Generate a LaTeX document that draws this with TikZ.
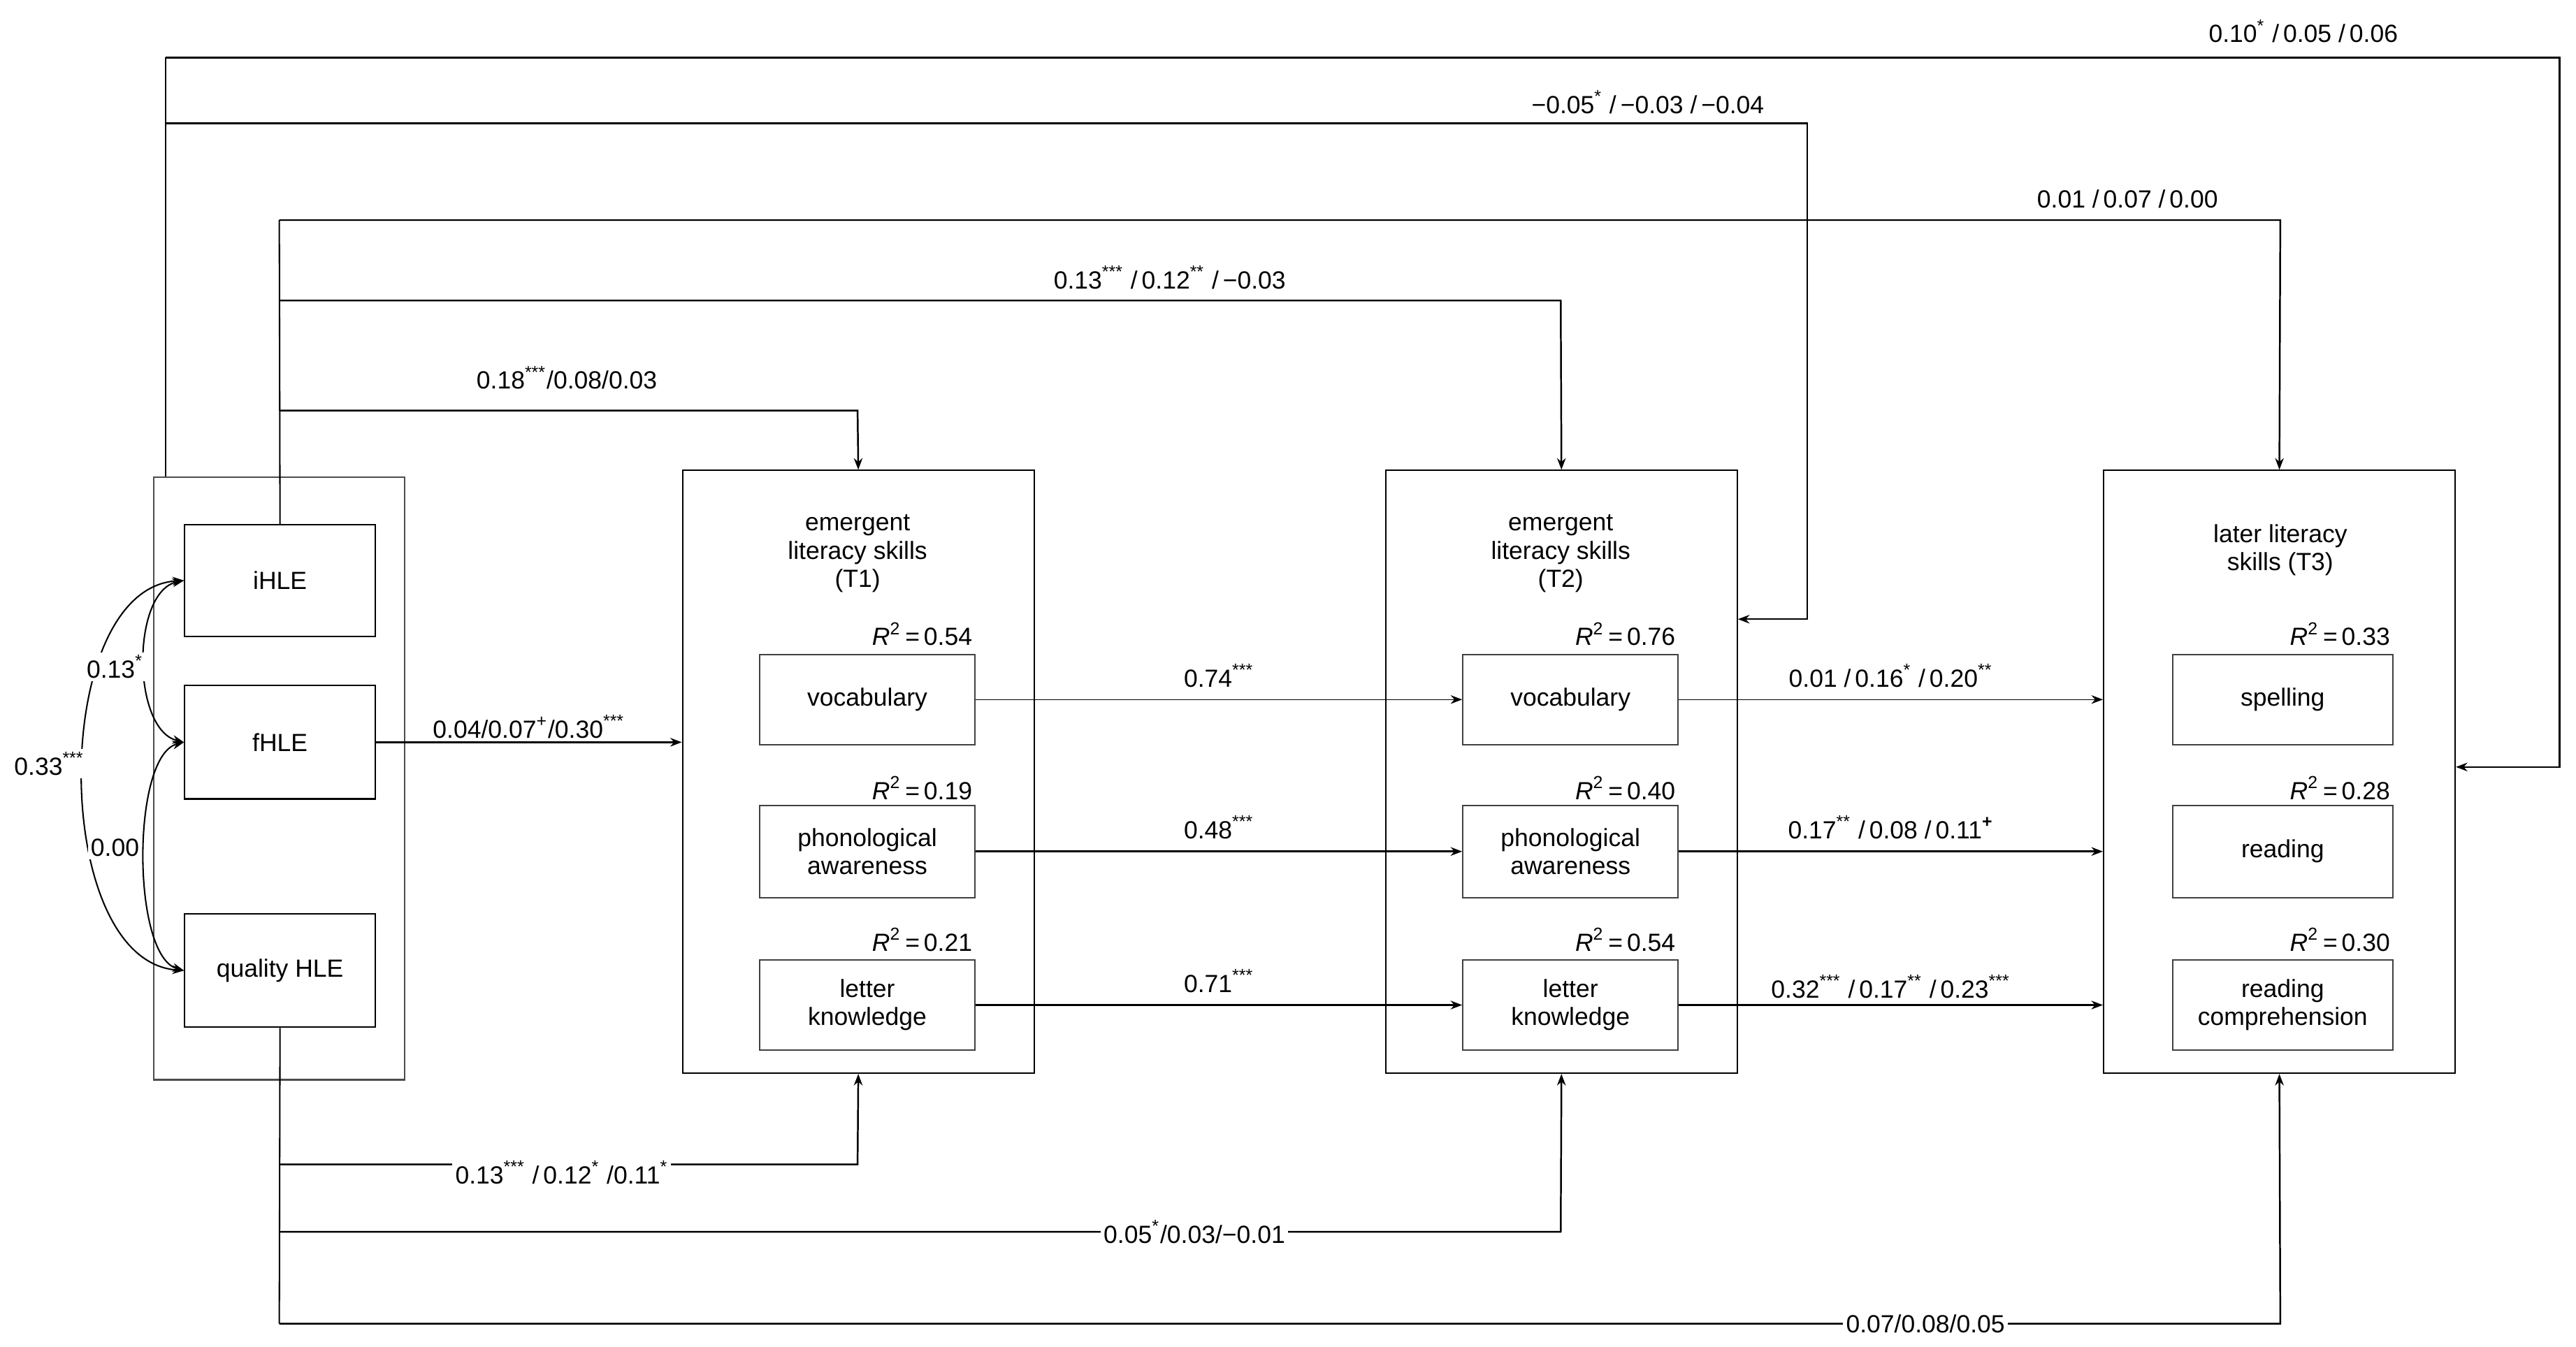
\documentclass[tikz,border=0pt]{standalone}
\usepackage{fontspec}
\setmainfont{Liberation Sans}
\usetikzlibrary{arrows.meta}
\newcommand{\sps}[1]{\textsuperscript{#1}}
\newcommand{\Rsq}{\textit{R}\textsuperscript{2}\,=\,}
\newcommand{\mn}{\textminus}
\begin{document}
\begin{tikzpicture}[x=0.02cm,y=-0.02cm,
  font=\fontsize{8.6}{9.8}\selectfont,
  box/.style={draw,line width=0.5pt,inner sep=0pt,anchor=north west},
  arr/.style={-{Stealth[length=4pt,width=3pt]},line width=0.6pt},
  thin/.style={-{Stealth[length=4pt,width=3pt]},line width=0.35pt},
  lab/.style={inner sep=1pt},
  onl/.style={inner sep=1pt,fill=white}]
\useasboundingbox (0,0) rectangle (1568,820);
% HLE
\node[box,draw=black!70,minimum width=153*0.02cm,minimum height=367*0.02cm] (hle) at (93,290) {};
\node[box,minimum width=116*0.02cm,minimum height=68*0.02cm] (ihle) at (112,319) {};
\node at (ihle.center) {iHLE};
\node[box,minimum width=116*0.02cm,minimum height=69*0.02cm] (fhle) at (112,417) {};
\node at (fhle.center) {fHLE};
\node[box,minimum width=116*0.02cm,minimum height=69*0.02cm] (qhle) at (112,556) {};
\node at (qhle.center) {quality HLE};
% blocks
\foreach \n/\x in {t1/415,t2/843,t3/1280}{
  \node[box,minimum width=214*0.02cm,minimum height=367*0.02cm] (\n) at (\x,286) {};
}
\node[align=center] (tt1) at (522,337) {emergent\\literacy skills\\(T1)};
\node[align=center] (tt2) at (950,337) {emergent\\literacy skills\\(T2)};
\node[align=center] (tt3) at (1388,335) {later literacy\\skills (T3)};
\foreach \n/\x/\ra/\rb/\rc in {a/462/0.54/0.19/0.21,b/890/0.76/0.40/0.54}{
  \node[box,draw=black!75,minimum width=131*0.02cm,minimum height=55*0.02cm] (v\n) at (\x,398) {};
  \node at (v\n.center) {vocabulary};
  \node[box,draw=black!75,minimum width=131*0.02cm,minimum height=56*0.02cm] (p\n) at (\x,490) {};
  \node[align=center] at (p\n.center) {phonological\\awareness};
  \node[box,draw=black!75,minimum width=131*0.02cm,minimum height=55*0.02cm] (l\n) at (\x,584) {};
  \node[align=center] at (l\n.center) {letter\\knowledge};
  \node[anchor=east,lab] (ra\n) at ([yshift=0.24cm]v\n.north east) {\Rsq\ra};
  \node[anchor=east,lab] (rb\n) at ([yshift=0.20cm]p\n.north east) {\Rsq\rb};
  \node[anchor=east,lab] (rc\n) at ([yshift=0.24cm]l\n.north east) {\Rsq\rc};
}
\node[box,draw=black!75,minimum width=134*0.02cm,minimum height=55*0.02cm] (vc) at (1322,398) {};
\node at (vc.center) {spelling};
\node[box,draw=black!75,minimum width=134*0.02cm,minimum height=56*0.02cm] (pc) at (1322,490) {};
\node at (pc.center) {reading};
\node[box,draw=black!75,minimum width=134*0.02cm,minimum height=55*0.02cm] (lc) at (1322,584) {};
\node[align=center] at (lc.center) {reading\\comprehension};
\node[anchor=east,lab] (rac) at ([yshift=0.24cm]vc.north east) {\Rsq0.33};
\node[anchor=east,lab] (rbc) at ([yshift=0.20cm]pc.north east) {\Rsq0.28};
\node[anchor=east,lab] (rcc) at ([yshift=0.24cm]lc.north east) {\Rsq0.30};
% horizontal paths
\draw[arr] (fhle.east) -- (t1.west |- fhle.east) node[lab,midway,above] {0.04/0.07\sps{+}/0.30\sps{***}};
\draw[thin] (va.east) -- (vb.west) node[lab,midway,above=3pt] {0.74\sps{***}};
\draw[arr] (pa.east) -- (pb.west) node[lab,midway,above=3pt] {0.48\sps{***}};
\draw[arr] (la.east) -- (lb.west) node[lab,midway,above=3pt] {0.71\sps{***}};
\draw[thin] (vb.east) -- (t3.west |- vb.east) node[lab,midway,above=3pt] {0.01 /\,0.16\sps{*} /\,0.20\sps{**}};
\draw[arr] (pb.east) -- (t3.west |- pb.east) node[lab,midway,above=3pt] {0.17\sps{**} /\,0.08 /\,0.11\sps{\textbf{+}}};
\draw[arr] (lb.east) -- (t3.west |- lb.east) node[lab,midway,above=1pt] {0.32\sps{***} /\,0.17\sps{**} /\,0.23\sps{***}};
% iHLE upward
\coordinate (i1) at (170,250); \coordinate (i2) at (170,183); \coordinate (i3) at (170,134);
\draw[line width=0.5pt] (ihle.north) -- (i3);
\draw[arr] (i1) -- (522,250) -- (t1.north);
\node[lab] (l1) at (345,230) {0.18\sps{***}/0.08/0.03};
\draw[arr] (i2) -- (950,183) -- (t2.north);
\node[lab] (l2) at (712,169) {0.13\sps{***} /\,0.12\sps{**} /\,\mn0.03};
\draw[arr] (i3) -- (1388,134) -- (t3.north);
\node[lab] (l3) at (1295,121) {0.01 /\,0.07 /\,0.00};
% outer line
\coordinate (o0) at (101,290); \coordinate (o1) at (101,75); \coordinate (o2) at (101,35);
\draw[line width=0.5pt] (o0) -- (o2);
\draw[arr] (o1) -- (1100,75) -- (1100,377) -- (t2.east |- 0,377);
\node[lab] (l4) at (1003,62) {\mn0.05\sps{*} /\,\mn0.03 /\,\mn0.04};
\draw[arr] (o2) -- (1558,35) -- (1558,467) -- (t3.east |- 0,467);
\node[lab] (l5) at (1402,19) {0.10\sps{*} /\,0.05 /\,0.06};
% quality downward
\coordinate (q1) at (170,709); \coordinate (q2) at (170,750); \coordinate (q3) at (170,806);
\draw[line width=0.5pt] (qhle.south) -- (q3);
\draw[arr] (q1) -- (522,709) -- (t1.south);
\node[onl] (l6) at (342,714) {0.13\sps{***} /\,0.12\sps{*} /0.11\sps{*}};
\draw[arr] (q2) -- (950,750) -- (t2.south);
\node[onl] (l7) at (727,750) {0.05\sps{*}/0.03/\mn0.01};
\draw[arr] (q3) -- (1388,806) -- (t3.south);
\node[onl] (l8) at (1172,806) {0.07/0.08/0.05};
% correlations
\draw[{Stealth[length=4pt,width=3pt]}-{Stealth[length=4pt,width=3pt]},line width=0.5pt]
  (ihle.west) .. controls (80,360) and (80,444) .. (fhle.west);
\draw[{Stealth[length=4pt,width=3pt]}-{Stealth[length=4pt,width=3pt]},line width=0.5pt]
  (fhle.west) .. controls (80,460) and (80,582) .. (qhle.west);
\draw[{Stealth[length=4pt,width=3pt]}-{Stealth[length=4pt,width=3pt]},line width=0.5pt]
  (ihle.west) .. controls (30,358) and (30,585) .. (qhle.west);
\node[onl] (c1) at (70,406) {0.13\sps{*}};
\node[onl] (c2) at (70,516) {0.00};
\node[onl] (c3) at (30,465) {0.33\sps{***}};
\end{tikzpicture}
\end{document}
